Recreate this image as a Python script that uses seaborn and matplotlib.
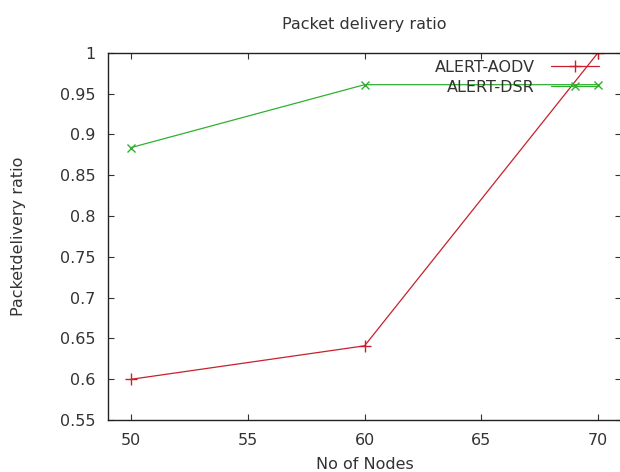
import matplotlib
matplotlib.use("Agg")
import matplotlib.pyplot as plt
import seaborn as sns
import pandas as pd

nodes = [50, 60, 70]
aodv = [0.60, 0.641, 1.0]
dsr = [0.884, 0.961, 0.961]
series_names = ["ALERT-AODV", "ALERT-DSR"]
xticks = [50, 55, 60, 65, 70]
yticks = [0.55, 0.6, 0.65, 0.7, 0.75, 0.8, 0.85, 0.9, 0.95, 1.0]

sns.set_style("ticks")
plt.rcParams['font.family'] = ['DejaVu Sans']

FS = 11.5
TXT = "#333333"
RED = "#c8202c"
GREEN = "#30b030"

fig = plt.figure(figsize=(6.2, 4.72), dpi=100)
ax = fig.add_axes([0.174, 0.110, 0.828, 0.778])

df_a = pd.DataFrame({"x": nodes, "y": aodv})
df_d = pd.DataFrame({"x": nodes, "y": dsr})
sns.lineplot(data=df_a, x="x", y="y", ax=ax, color=RED, marker="+",
             markersize=8, markeredgewidth=1.0, markeredgecolor=RED,
             linewidth=0.9, label=series_names[0])
sns.lineplot(data=df_d, x="x", y="y", ax=ax, color=GREEN, marker="x",
             markersize=6, markeredgewidth=1.0, markeredgecolor=GREEN,
             linewidth=0.9, label=series_names[1])

ax.set_xlim(49, 71)
ax.set_ylim(0.55, 1.0)
ax.set_xticks(xticks)
ax.set_xticklabels([str(v) for v in xticks])
ax.set_yticks(yticks)
ax.set_yticklabels([f"{v:g}" for v in yticks])
ax.tick_params(direction="in", top=True, right=True, length=4, width=0.8,
               labelsize=FS, colors=TXT, pad=9)
for s in ax.spines.values():
    s.set_linewidth(1.0)
    s.set_color("#222222")

ax.set_xlabel("No of Nodes", fontsize=FS, color=TXT, labelpad=7)
ax.set_ylabel("Packetdelivery ratio", fontsize=FS, color=TXT, labelpad=24)
ax.set_title("Packet delivery ratio", fontsize=FS, color=TXT, pad=17)

leg = ax.legend(loc="upper right", frameon=False, markerfirst=False,
                handlelength=3.0, fontsize=FS, borderaxespad=0.0,
                labelspacing=0.3, handletextpad=1.0, borderpad=0.2,
                bbox_to_anchor=(0.962, 0.99))
for t in leg.get_texts():
    t.set_color(TXT)

fig.savefig("out.png", dpi=100)
